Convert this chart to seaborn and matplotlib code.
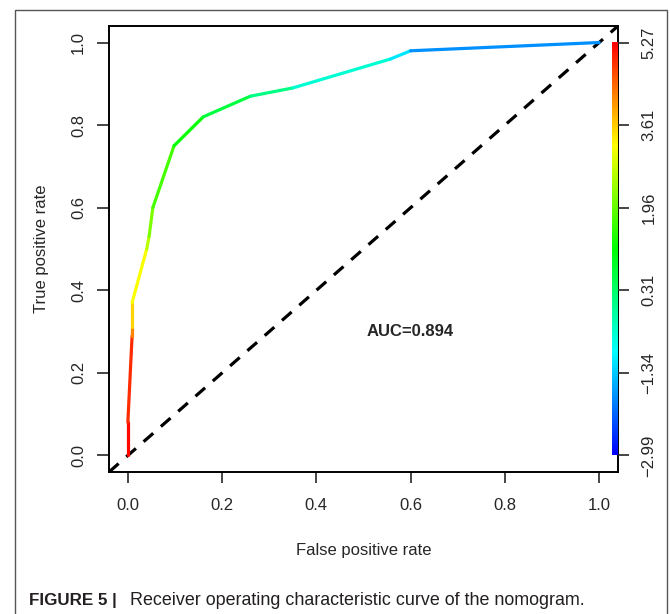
import colorsys
import numpy as np
import matplotlib
matplotlib.use("Agg")
import matplotlib.pyplot as plt
from matplotlib.collections import LineCollection
from matplotlib.colors import ListedColormap, Normalize
from matplotlib.patches import Rectangle
from matplotlib import font_manager
import seaborn as sns

# ---- data -------------------------------------------------------------
fpr = [0.0, 0.0, 0.009, 0.009, 0.009, 0.040, 0.045, 0.053, 0.098,
       0.160, 0.260, 0.350, 0.557, 0.600, 1.0]
tpr = [0.0, 0.08, 0.29, 0.31, 0.37, 0.50, 0.53, 0.60, 0.75,
       0.82, 0.87, 0.89, 0.96, 0.98, 1.0]
cutoff = [5.27, 5.1, 4.7, 3.7, 3.4, 2.9, 2.4, 1.9, 1.5,
          0.9, 0.4, -0.2, -0.9, -1.3, -2.3]
x_ticks = [0.0, 0.2, 0.4, 0.6, 0.8, 1.0]
y_ticks = [0.0, 0.2, 0.4, 0.6, 0.8, 1.0]
cutoff_labels = ["\u22122.99", "\u22121.34", "0.31", "1.96", "3.61", "5.27"]
cut_min, cut_max = -2.99, 5.27
auc_text = "AUC=0.894"
x_label = "False positive rate"
y_label = "True positive rate"
caption_bold = "FIGURE 5 |"
caption_rest = "Receiver operating characteristic curve of the nomogram."

# ---- style ------------------------------------------------------------
sns.set_style("white")
plt.rcParams["font.family"] = ["Liberation Sans", "DejaVu Sans"]
installed = {f.name for f in font_manager.fontManager.ttflist}
cap_family = ["Liberation Sans Narrow", "Liberation Sans"] \
    if "Liberation Sans Narrow" in installed else ["Liberation Sans"]

W, H = 670, 614
fig = plt.figure(figsize=(W / 100, H / 100), dpi=100)

def px_axes(l, t, r, b):
    return [l / W, 1 - b / H, (r - l) / W, (b - t) / H]

ax = fig.add_axes(px_axes(109, 26, 618, 472))

# rainbow colormap (blue -> red) like R's rainbow(start=0,end=4/6) reversed
cols = [colorsys.hsv_to_rgb(h, 1, 1) for h in np.linspace(4 / 6, 0, 256)]
cmap = ListedColormap(cols)
norm = Normalize(cut_min, cut_max)

# colored ROC curve
pts = np.column_stack([fpr, tpr])
segs = np.stack([pts[:-1], pts[1:]], axis=1)
cvals = [(cutoff[i] + cutoff[i + 1]) / 2 for i in range(len(cutoff) - 1)]
lc = LineCollection(segs, colors=cmap(norm(np.array(cvals))), linewidths=2.3,
                    capstyle="round", joinstyle="round", zorder=3)
ax.add_collection(lc)

# diagonal reference
ax.axline((0, 0), (1, 1), color="black", lw=2.3, ls=(0, (4, 3.2)), zorder=2)

# color key bar
grad = np.linspace(cut_min, cut_max, 256).reshape(-1, 1)
ax.imshow(grad, cmap=cmap, norm=norm, origin="lower", aspect="auto",
          extent=[1.0265, 1.0375, 0, 1], interpolation="nearest", zorder=3)

ax.set_xlim(-0.04, 1.04)
ax.set_ylim(-0.04, 1.04)

ax.text(0.6, 0.3, auc_text, ha="center", va="center", fontsize=12,
        fontweight="bold")

ax.set_xticks(x_ticks)
ax.set_xticklabels([f"{v:.1f}" for v in x_ticks])
ax.set_yticks(y_ticks)
ax.set_yticklabels([f"{v:.1f}" for v in y_ticks], rotation=90, va="center")
ax.tick_params(axis="x", direction="out", length=8, width=1.2, pad=11,
               labelsize=12, bottom=True)
ax.tick_params(axis="y", direction="out", length=8.5, width=1.2, pad=8,
               labelsize=12, left=True)
ax.set_xlabel(x_label, fontsize=12, labelpad=21)
ax.set_ylabel(y_label, fontsize=12, labelpad=16)
for s in ax.spines.values():
    s.set_color("black")
    s.set_linewidth(1.4)

ax2 = ax.twinx()
ax2.set_ylim(ax.get_ylim())
ax2.set_yticks(y_ticks)
ax2.set_yticklabels(cutoff_labels, rotation=90, va="center")
ax2.tick_params(axis="y", direction="out", length=8, width=1.2, pad=9,
                labelsize=12, right=True)
for s in ax2.spines.values():
    s.set_visible(False)

# outer frame
fig.add_artist(Rectangle((15 / W, -0.05), (667 - 15) / W, 1.05 - 10 / H,
                         transform=fig.transFigure, fill=False,
                         edgecolor="#555555", lw=1.0))

# caption
t1 = fig.text(29 / W, 1 - 605 / H, caption_bold, fontsize=13.5,
              family=cap_family, fontweight="bold", color="#231f20",
              va="baseline", ha="left")
t2 = fig.text(130 / W, 1 - 605 / H, caption_rest, fontsize=13.5,
              family=cap_family, color="#231f20", va="baseline", ha="left")
fig.canvas.draw()
r = fig.canvas.get_renderer()
w1 = t1.get_window_extent(r).width
w2 = t2.get_window_extent(r).width
t1.set_fontsize(13.5 * 88 / w1)
t2.set_fontsize(13.5 * 453 / w2)

fig.savefig("out.png", dpi=100)
